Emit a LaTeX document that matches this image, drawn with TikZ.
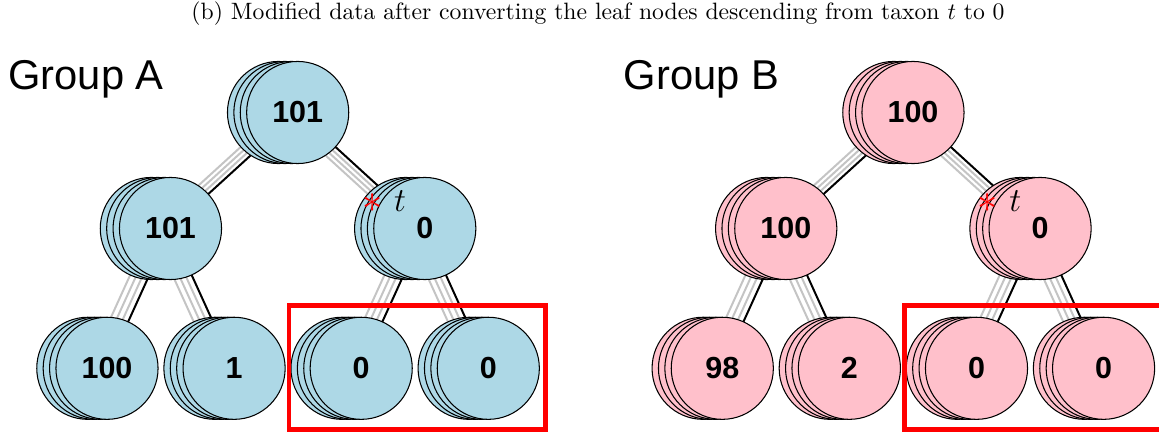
\documentclass[tikz,border=0pt]{standalone}
\usepackage{fontspec}
\setsansfont{Liberation Sans}
\usepackage{xcolor}
\usetikzlibrary{positioning}

\definecolor{nodeblue}{HTML}{ADD8E6}
\definecolor{nodepink}{HTML}{FFC0CB}
\definecolor{edgegray}{HTML}{C4C4C4}

\pgfdeclarelayer{edges}
\pgfsetlayers{edges,main}

% four stacked circles, the front one carries the count
\newcommand{\nodestack}[4]{%
    \foreach \k in {3,2,1}{\node (#1-\k) [bubble, fill=#4, xshift=-\k*2.73pt] at #2 {};}
    \node (#1) [bubble, fill=#4] at #2 {#3};
}
% one line per stacked layer, grey behind, black in front
\newcommand{\edgestack}[2]{%
    \begin{pgfonlayer}{edges}
        \foreach \k in {3,2,1}{\draw[twig] (#1-\k.center) -- (#2-\k.center);}
        \draw[twig, draw=black] (#1.center) -- (#2.center);
    \end{pgfonlayer}
}

\begin{document}
\begin{tikzpicture}[
    x=0.427pt, y=-0.427pt,
    bubble/.style={circle, draw=black, line width=0.45pt, minimum size=43.6pt, inner sep=0pt, font=\sffamily\bfseries\fontsize{13}{15}\selectfont},
    twig/.style={draw=edgegray, line width=0.85pt},
    group/.style={anchor=base west, inner sep=0pt, font=\sffamily\fontsize{17.8}{20}\selectfont},
    pick/.style={draw=red, line width=2.1pt},
    starmark/.style={text=red, inner sep=0pt, font=\fontsize{16}{18}\selectfont},
    taxon/.style={anchor=base, inner sep=0pt, font=\fontsize{14.4}{16}\selectfont}
]
    \useasboundingbox (0,0) rectangle (1159,435);

    \node (caption) [anchor=base, inner sep=0pt, font=\fontsize{10.1}{12}\selectfont] at (598,20) {(b) Modified data after converting the leaf nodes descending from taxon $t$ to 0};

    % Group A (left)
    \node (labelA) [group] at (8,89.3) {Group A};
    \nodestack{rootA}{(297.7,112.5)}{101}{nodeblue}
    \nodestack{leftA}{(170.5,228.5)}{101}{nodeblue}
    \nodestack{taxonA}{(424.8,228.5)}{0}{nodeblue}
    \nodestack{leafA1}{(107,368.3)}{100}{nodeblue}
    \nodestack{leafA2}{(234.1,368.3)}{1}{nodeblue}
    \nodestack{leafA3}{(361.2,368.3)}{0}{nodeblue}
    \nodestack{leafA4}{(488.3,368.3)}{0}{nodeblue}

    \edgestack{rootA}{leftA}
    \edgestack{rootA}{taxonA}
    \edgestack{leftA}{leafA1}
    \edgestack{leftA}{leafA2}
    \edgestack{taxonA}{leafA3}
    \edgestack{taxonA}{leafA4}

    \node (starA) [starmark, xshift=-22.2pt, yshift=10.8pt] at (taxonA) {$\ast$};
    \node (tA) [taxon, xshift=-10.6pt, yshift=7.2pt] at (taxonA) {$t$};
    \draw[pick] (289,305.8) rectangle (545.8,429.5);

    % Group B (right)
    \node (labelB) [group] at (623.3,89.3) {Group B};
    \nodestack{rootB}{(913.0,112.5)}{100}{nodepink}
    \nodestack{leftB}{(785.8,228.5)}{100}{nodepink}
    \nodestack{taxonB}{(1040.1,228.5)}{0}{nodepink}
    \nodestack{leafB1}{(722.3,368.3)}{98}{nodepink}
    \nodestack{leafB2}{(849.4,368.3)}{2}{nodepink}
    \nodestack{leafB3}{(976.5,368.3)}{0}{nodepink}
    \nodestack{leafB4}{(1103.6,368.3)}{0}{nodepink}

    \edgestack{rootB}{leftB}
    \edgestack{rootB}{taxonB}
    \edgestack{leftB}{leafB1}
    \edgestack{leftB}{leafB2}
    \edgestack{taxonB}{leafB3}
    \edgestack{taxonB}{leafB4}

    \node (starB) [starmark, xshift=-22.2pt, yshift=10.8pt] at (taxonB) {$\ast$};
    \node (tB) [taxon, xshift=-10.6pt, yshift=7.2pt] at (taxonB) {$t$};
    \draw[pick] (904.3,305.8) rectangle (1161.1,429.5);

\end{tikzpicture}
\end{document}
